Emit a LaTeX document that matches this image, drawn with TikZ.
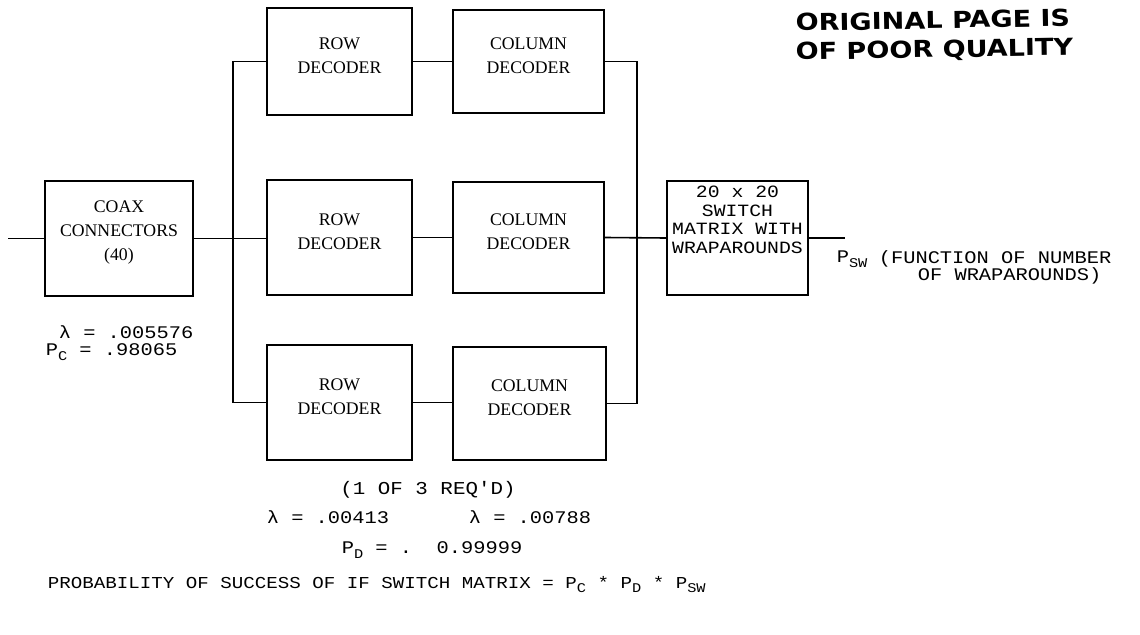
\documentclass[tikz,border=0pt]{standalone}
\usepackage{fontspec}
\setmainfont{Liberation Serif}
\newfontfamily\tw{Liberation Mono}[FakeStretch=1.15]
\newfontfamily\stampfont{DejaVu Sans}[FakeStretch=1.16]
\usetikzlibrary{fit}
\newcommand\mysub[1]{\raisebox{-0.55ex}{\fontsize{10}{10}\selectfont #1}}
\begin{document}
\begin{tikzpicture}[x=0.75pt,y=-0.75pt,line width=1.2pt,
  blk/.style={draw,inner sep=0pt,align=center,font=\fontsize{13.3}{18}\selectfont},
  tt/.style={inner sep=0pt,font=\tw\fontsize{13.3}{14}\selectfont},
  stampline/.style={inner sep=0pt,anchor=base west,rotate=1,font=\stampfont\bfseries\fontsize{17.5}{18}\selectfont}]
\useasboundingbox (0,0) rectangle (1140,635);
% boxes
\node[blk,fit={(45,181) (193,296)}] (coax) {COAX\\CONNECTORS\\(40)};
\node[blk,fit={(267,8) (412,115)}] (row1) {ROW\\DECODER};
\node[blk,fit={(267,180) (412,295)}] (row2) {ROW\\DECODER};
\node[blk,fit={(267,345) (412,460)}] (row3) {ROW\\DECODER};
\node[blk,fit={(453,10) (604,113)}] (col1) {COLUMN\\DECODER};
\node[blk,fit={(453,182) (604,293)}] (col2) {COLUMN\\DECODER};
\node[blk,fit={(453,347) (606,460)}] (col3) {COLUMN\\DECODER};
\node[draw,inner sep=0pt,fit={(667,181) (808,295)}] (sw) {};
\node[tt,align=center,font=\tw\fontsize{12.9}{13.9}\selectfont] (swtext) at (737.5,220) {20 x 20\\SWITCH\\MATRIX WITH\\WRAPAROUNDS};
% bus coordinates
\coordinate (lbus) at (233,0);
\coordinate (rbus) at (637,0);
\coordinate (in) at (8,238.5);
\coordinate (out) at (845,238);
% connectors
\draw (in) -- (coax.west);
\draw (coax.east) -- (coax.east -| row2.west);
\draw (row1.west) -- (row1.west -| lbus) -- (row3.west -| lbus) -- (row3.west);
\draw (row1) -- (col1);
\draw (row2) -- (col2);
\draw (row3.east) -- (row3.east -| col3.west);
\draw (col1.east) -- (col1.east -| rbus) -- (col3.east -| rbus) -- (col3.east);
\draw (col2.east) -- (sw.west);
\draw (sw.east) -- (out);
% labels
\node[tt,anchor=base west] (lc) at (58,338) {λ = .005576};
\node[tt,anchor=base west] (pc) at (45,355) {P\mysub{C} = .98065};
\node[tt,font=\tw\fontsize{13.6}{14}\selectfont] (req) at (428,490) {(1 OF 3 REQ'D)};
\node[tt,anchor=west] (lr) at (266,517) {λ = .00413};
\node[tt,anchor=west] (lcol) at (468,517) {λ = .00788};
\node[tt,anchor=base west] (pd) at (341,553) {P\mysub{D} = .~~0.99999};
\node[tt,anchor=base west] (psw) at (836,262) {P\mysub{SW}};
\node[tt,anchor=north west,align=left,font=\tw\fontsize{13.3}{12.5}\selectfont] (fn) at (878,250) {(FUNCTION OF NUMBER\\\hspace*{2.2em}OF WRAPAROUNDS)};
\node[tt,font=\tw\fontsize{12.5}{14}\selectfont,anchor=base west] (prob) at (47,588) {PROBABILITY OF SUCCESS OF IF SWITCH MATRIX = P\mysub{C} * P\mysub{D} * P\mysub{SW}};
\node[stampline] (stamp1) at (795,31) {ORIGINAL PAGE IS};
\node[stampline] (stamp2) at (795,60) {OF POOR QUALITY};
\end{tikzpicture}
\end{document}
